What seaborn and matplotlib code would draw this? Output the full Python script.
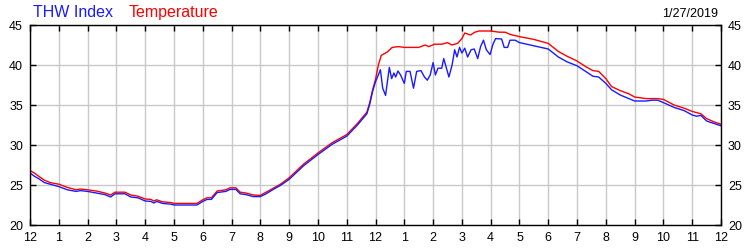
import matplotlib
matplotlib.use("Agg")
import matplotlib.pyplot as plt
import seaborn as sns
import pandas as pd

temp_hours = [0.0, 0.15, 0.3, 0.5, 0.7, 1.0, 1.3, 1.6, 1.75, 2.0, 2.3, 2.6, 2.8, 2.95, 3.3, 3.5,
              3.75, 4.0, 4.2, 4.3, 4.4, 4.6, 4.9, 5.0, 5.8, 6.0, 6.15, 6.3, 6.5, 6.8, 6.95, 7.15,
              7.3, 7.5, 7.75, 8.0, 8.2, 8.45, 8.7, 9.0, 9.5, 10.0, 10.5, 11.0, 11.35, 11.7, 11.8,
              11.9, 12.0, 12.1, 12.2, 12.4, 12.58, 12.8, 13.0, 13.5, 13.73, 13.85, 14.05, 14.3,
              14.5, 14.65, 14.85, 15.0, 15.1, 15.3, 15.45, 15.6, 16.0, 16.3, 16.5, 16.7, 17.0,
              17.5, 18.0, 18.35, 18.65, 19.0, 19.3, 19.55, 19.75, 20.0, 20.2, 20.5, 20.8, 21.0,
              21.4, 21.8, 22.0, 22.37, 22.72, 23.0, 23.3, 23.5, 23.75, 24.0]
temperature = [26.8, 26.5, 26.1, 25.6, 25.3, 25.1, 24.7, 24.4, 24.5, 24.4, 24.25, 24.0, 23.75, 24.1,
               24.1, 23.75, 23.6, 23.25, 23.2, 23.0, 23.15, 22.9, 22.8, 22.7, 22.7, 23.15, 23.4,
               23.4, 24.25, 24.4, 24.65, 24.65, 24.1, 24.0, 23.75, 23.7, 24.1, 24.6, 25.1, 25.9,
               27.6, 29.0, 30.3, 31.3, 32.6, 34.1, 35.3, 36.9, 38.2, 40.0, 41.2, 41.6, 42.2, 42.3,
               42.2, 42.2, 42.5, 42.3, 42.6, 42.6, 42.8, 42.5, 42.7, 43.3, 44.0, 43.75, 44.1, 44.25,
               44.25, 44.1, 44.1, 43.8, 43.55, 43.2, 42.7, 41.7, 41.1, 40.5, 39.8, 39.3, 39.2, 38.3,
               37.3, 36.8, 36.4, 36.0, 35.8, 35.8, 35.7, 35.0, 34.6, 34.2, 33.9, 33.3, 32.9, 32.6]

thw_hours = [0.0, 0.15, 0.3, 0.5, 0.7, 1.0, 1.3, 1.6, 1.75, 2.0, 2.3, 2.6, 2.8, 2.95, 3.3, 3.5,
             3.75, 4.0, 4.2, 4.3, 4.4, 4.6, 4.9, 5.0, 5.8, 6.0, 6.15, 6.3, 6.5, 6.8, 6.95, 7.15,
             7.3, 7.5, 7.75, 8.0, 8.2, 8.45, 8.7, 9.0, 9.5, 10.0, 10.5, 11.0, 11.35, 11.7, 11.8,
             11.9, 12.0, 12.17, 12.25, 12.35, 12.48, 12.56, 12.64, 12.7, 12.78, 12.87, 13.0,
             13.07, 13.2, 13.32, 13.43, 13.58, 13.7, 13.8, 13.9, 14.0, 14.08, 14.17, 14.3, 14.37,
             14.55, 14.66, 14.75, 14.83, 14.92, 15.0, 15.1, 15.2, 15.32, 15.43, 15.55, 15.65,
             15.75, 15.85, 15.98, 16.07, 16.17, 16.38, 16.47, 16.59, 16.67, 16.85, 17.0, 17.5,
             18.0, 18.35, 18.65, 19.0, 19.3, 19.55, 19.75, 20.0, 20.2, 20.5, 20.8, 21.0, 21.4,
             21.6, 21.8, 22.0, 22.37, 22.72, 23.0, 23.15, 23.3, 23.5, 23.75, 24.0]
thw_index = [26.5, 26.1, 25.8, 25.3, 25.1, 24.8, 24.4, 24.2, 24.3, 24.2, 24.0, 23.8, 23.5, 23.9,
             23.9, 23.5, 23.4, 23.0, 22.95, 22.75, 22.95, 22.7, 22.6, 22.5, 22.5, 22.95, 23.2,
             23.2, 24.05, 24.2, 24.45, 24.45, 23.9, 23.8, 23.55, 23.55, 23.9, 24.45, 24.95, 25.7,
             27.4, 28.8, 30.1, 31.1, 32.4, 33.9, 35.1, 36.7, 37.9, 39.4, 37.1, 36.2, 39.7, 38.3,
             39.0, 38.5, 39.25, 38.75, 37.7, 39.2, 39.2, 37.1, 39.2, 39.3, 38.5, 38.1, 38.75,
             40.3, 38.75, 39.6, 39.6, 40.8, 38.5, 40.0, 41.9, 41.0, 42.2, 41.5, 42.1, 41.0, 41.9,
             42.0, 40.8, 42.3, 43.1, 41.9, 41.3, 42.5, 43.3, 43.25, 42.2, 42.2, 43.1, 43.1, 42.8,
             42.4, 42.0, 41.0, 40.4, 39.9, 39.2, 38.6, 38.5, 37.7, 36.9, 36.25, 35.8, 35.5, 35.5,
             35.6, 35.6, 35.3, 34.7, 34.3, 33.75, 33.6, 33.7, 33.0, 32.7, 32.4]

x_tick_labels = ["12", "1", "2", "3", "4", "5", "6", "7", "8", "9", "10", "11",
                 "12", "1", "2", "3", "4", "5", "6", "7", "8", "9", "10", "11", "12"]
y_ticks = [20, 25, 30, 35, 40, 45]

sns.set_theme(style="white")
plt.rcParams["font.family"] = ["Liberation Sans", "DejaVu Sans"]

fig = plt.figure(figsize=(7.5, 2.5), dpi=100)
ax = fig.add_axes([30 / 750, 25 / 250, 691 / 750, 200 / 250])

df_t = pd.DataFrame({"hour": temp_hours, "value": temperature})
df_h = pd.DataFrame({"hour": thw_hours, "value": thw_index})
sns.lineplot(data=df_t, x="hour", y="value", color="#ff0000", linewidth=1.0, ax=ax)
sns.lineplot(data=df_h, x="hour", y="value", color="#1a1aff", linewidth=1.0, ax=ax)

ax.set_xlim(0, 24)
ax.set_ylim(20, 45)
ax.set_xticks(range(25))
ax.set_xticklabels(x_tick_labels)
ax.set_yticks(y_ticks)
ax.set_xlabel("")
ax.set_ylabel("")
ax.grid(True, color="#c8c8c8", linewidth=1.0)
ax.set_axisbelow(True)
for s in ax.spines.values():
    s.set_color("black")
    s.set_linewidth(1.0)
ax.tick_params(axis="both", which="both", direction="in", length=4, width=1, color="black",
               labelsize=9, labelcolor="black", top=True, bottom=True, left=True, right=True,
               labelright=True, pad=5)

fig.text(33 / 750, 1 - 17 / 250, "THW Index", color="#1a1aff", fontsize=11.5, ha="left", va="baseline")
fig.text(129 / 750, 1 - 17 / 250, "Temperature", color="#ff0000", fontsize=11.5, ha="left", va="baseline")
fig.text(718 / 750, 1 - 17 / 250, "1/27/2019", color="black", fontsize=9, ha="right", va="baseline")

fig.savefig("out.png", dpi=100)
